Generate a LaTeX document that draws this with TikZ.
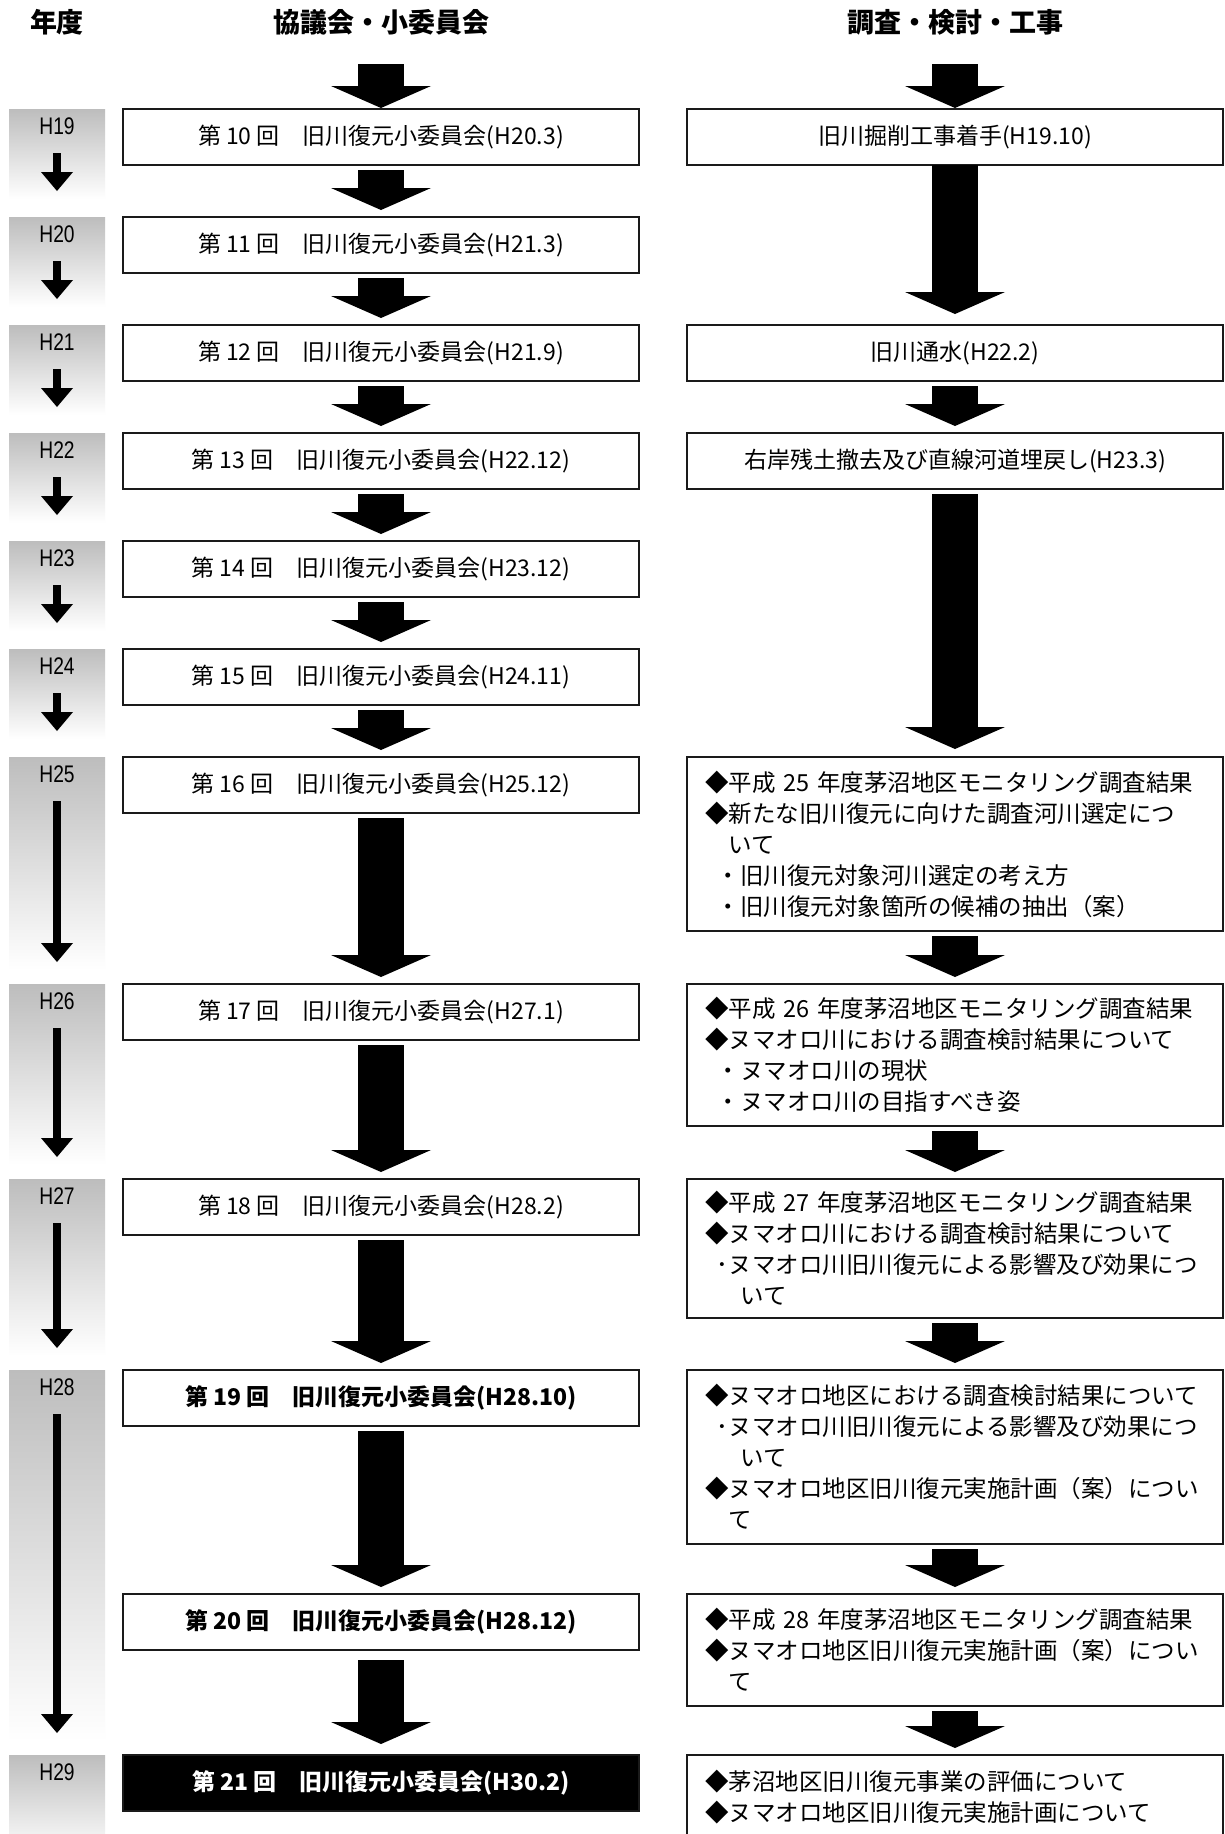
\documentclass[tikz,border=0pt]{standalone}
\usepackage{fontspec}
\setmainfont{Liberation Sans}
\newfontfamily\jpfont{Noto Sans CJK JP}
\newfontfamily\yearfont{Liberation Sans}[FakeStretch=0.8]
\usetikzlibrary{arrows.meta, positioning, calc}
\definecolor{yeargray}{HTML}{BDBDBD}
\definecolor{boxborder}{HTML}{1A1A1A}

\begin{document}
\begin{tikzpicture}[
      x=1pt, y=-1pt,
      meeting/.style={draw=boxborder, line width=1.5pt, minimum width=516pt,
        minimum height=56pt, inner sep=0pt, outer sep=0pt,
        font=\jpfont\fontsize{23}{28}\selectfont},
      keymeeting/.style={meeting, font=\jpfont\bfseries\fontsize{23}{28}\selectfont},
      work/.style={draw=boxborder, line width=1.5pt, minimum width=536pt,
        minimum height=56pt, inner sep=0pt, outer sep=0pt,
        font=\jpfont\fontsize{23}{28}\selectfont},
      survey/.style={draw=boxborder, line width=1.5pt, text width=500pt,
        inner xsep=18pt, inner ysep=6pt, outer sep=0pt, align=left,
        font=\jpfont\fontsize{23.5}{31}\selectfont},
      yearbox/.style={top color=yeargray, bottom color=white,
        minimum width=96pt, inner sep=0pt, outer sep=0pt},
      yearlabel/.style={inner sep=0pt, font=\yearfont\fontsize{24}{24}\selectfont},
      heading/.style={font=\jpfont\bfseries\fontsize{27}{30}\selectfont},
      flow/.style={line width=46pt, shorten <=5pt, shorten >=7pt,
        -{Triangle[width=100pt, length=22pt, line width=0pt]}},
      yearflow/.style={line width=8pt, shorten <=18pt, shorten >=8pt,
        -{Triangle[width=32pt, length=19pt, line width=0pt]}}
    ]
      \path[use as bounding box, fill=white] (0,0) rectangle (1225,1834);

      % headings
      \node[heading] (hyear) at (57,22) {年度};
      \node[heading] (hmeet) at (381,22) {協議会・小委員会};
      \node[heading] (hwork) at (955,22) {調査・検討・工事};
      \coordinate (top1) at (381,64);
      \coordinate (top2) at (955,64);

      % committee meetings
      \node[meeting, anchor=north] (m10) at (381,109) {第 10 回　旧川復元小委員会(H20.3)};
      \node[meeting, below=52pt of m10] (m11) {第 11 回　旧川復元小委員会(H21.3)};
      \node[meeting, below=52pt of m11] (m12) {第 12 回　旧川復元小委員会(H21.9)};
      \node[meeting, below=52pt of m12] (m13) {第 13 回　旧川復元小委員会(H22.12)};
      \node[meeting, below=52pt of m13] (m14) {第 14 回　旧川復元小委員会(H23.12)};
      \node[meeting, below=52pt of m14] (m15) {第 15 回　旧川復元小委員会(H24.11)};
      \node[meeting, below=52pt of m15] (m16) {第 16 回　旧川復元小委員会(H25.12)};
      \node[meeting, below=171pt of m16] (m17) {第 17 回　旧川復元小委員会(H27.1)};
      \node[meeting, below=139pt of m17] (m18) {第 18 回　旧川復元小委員会(H28.2)};
      \node[keymeeting, below=135pt of m18] (m19) {第 19 回　旧川復元小委員会(H28.10)};
      \node[keymeeting, below=168pt of m19] (m20) {第 20 回　旧川復元小委員会(H28.12)};
      \node[keymeeting, fill=black, text=white, below=105pt of m20] (m21)
        {第 21 回　旧川復元小委員会(H30.2)};

      % fiscal years
      \node[yearbox, minimum height=90pt, left=18pt of m10.north west, anchor=north east] (y19) {};
      \node[yearbox, minimum height=90pt, left=18pt of m11.north west, anchor=north east] (y20) {};
      \node[yearbox, minimum height=90pt, left=18pt of m12.north west, anchor=north east] (y21) {};
      \node[yearbox, minimum height=90pt, left=18pt of m13.north west, anchor=north east] (y22) {};
      \node[yearbox, minimum height=90pt, left=18pt of m14.north west, anchor=north east] (y23) {};
      \node[yearbox, minimum height=90pt, left=18pt of m15.north west, anchor=north east] (y24) {};
      \node[yearbox, minimum height=213pt, left=18pt of m16.north west, anchor=north east] (y25) {};
      \node[yearbox, minimum height=181pt, left=18pt of m17.north west, anchor=north east] (y26) {};
      \node[yearbox, minimum height=177pt, left=18pt of m18.north west, anchor=north east] (y27) {};
      \node[yearbox, minimum height=371pt, left=18pt of m19.north west, anchor=north east] (y28) {};
      \node[yearbox, minimum height=100pt, left=18pt of m21.north west, anchor=north east] (y29) {};
      \node[yearlabel, below=9pt of y19.north] (l19) {H19};
      \node[yearlabel, below=9pt of y20.north] (l20) {H20};
      \node[yearlabel, below=9pt of y21.north] (l21) {H21};
      \node[yearlabel, below=9pt of y22.north] (l22) {H22};
      \node[yearlabel, below=9pt of y23.north] (l23) {H23};
      \node[yearlabel, below=9pt of y24.north] (l24) {H24};
      \node[yearlabel, below=9pt of y25.north] (l25) {H25};
      \node[yearlabel, below=9pt of y26.north] (l26) {H26};
      \node[yearlabel, below=9pt of y27.north] (l27) {H27};
      \node[yearlabel, below=9pt of y28.north] (l28) {H28};
      \node[yearlabel, below=9pt of y29.north] (l29) {H29};

      % surveys and works
      \node[work, right=48pt of m10] (r10) {旧川掘削工事着手(H19.10)};
      \node[work, right=48pt of m12] (r12) {旧川通水(H22.2)};
      \node[work, right=48pt of m13] (r13) {右岸残土撤去及び直線河道埋戻し(H23.3)};
      \node[survey, minimum height=174pt, right=48pt of m16.north east, anchor=north west] (r16)
        {◆平成 25 年度茅沼地区モニタリング調査結果\\
         ◆新たな旧川復元に向けた調査河川選定につ\\
         \hspace*{1em}いて\\
         \hspace*{0.5em}・旧川復元対象河川選定の考え方\\
         \hspace*{0.5em}・旧川復元対象箇所の候補の抽出（案）};
      \node[survey, minimum height=142pt, right=48pt of m17.north east, anchor=north west] (r17)
        {◆平成 26 年度茅沼地区モニタリング調査結果\\
         ◆ヌマオロ川における調査検討結果について\\
         \hspace*{0.5em}・ヌマオロ川の現状\\
         \hspace*{0.5em}・ヌマオロ川の目指すべき姿};
      \node[survey, minimum height=139pt, right=48pt of m18.north east, anchor=north west] (r18)
        {◆平成 27 年度茅沼地区モニタリング調査結果\\
         ◆ヌマオロ川における調査検討結果について\\
         \hspace*{0.5em}･ヌマオロ川旧川復元による影響及び効果につ\\
         \hspace*{1.5em}いて};
      \node[survey, minimum height=174pt, right=48pt of m19.north east, anchor=north west] (r19)
        {◆ヌマオロ地区における調査検討結果について\\
         \hspace*{0.5em}･ヌマオロ川旧川復元による影響及び効果につ\\
         \hspace*{1.5em}いて\\
         ◆ヌマオロ地区旧川復元実施計画（案）につい\\
         \hspace*{1em}て};
      \node[survey, minimum height=112pt, right=48pt of m20.north east, anchor=north west] (r20)
        {◆平成 28 年度茅沼地区モニタリング調査結果\\
         ◆ヌマオロ地区旧川復元実施計画（案）につい\\
         \hspace*{1em}て};
      \node[survey, minimum height=84pt, right=48pt of m21.north east, anchor=north west] (r21)
        {◆茅沼地区旧川復元事業の評価について\\
         ◆ヌマオロ地区旧川復元実施計画について};

      % flow of meetings
      \draw[flow, shorten <=0pt, shorten >=1pt] (top1) -- (m10);
      \draw[flow] (m10) -- (m11);
      \draw[flow] (m11) -- (m12);
      \draw[flow] (m12) -- (m13);
      \draw[flow] (m13) -- (m14);
      \draw[flow] (m14) -- (m15);
      \draw[flow] (m15) -- (m16);
      \draw[flow] (m16) -- (m17);
      \draw[flow] (m17) -- (m18);
      \draw[flow] (m18) -- (m19);
      \draw[flow] (m19) -- (m20);
      \draw[flow, shorten <=10pt, shorten >=11pt] (m20) -- (m21);

      % flow of surveys
      \draw[flow, shorten <=0pt, shorten >=1pt] (top2) -- (r10);
      \draw[flow, shorten <=0pt, shorten >=11pt] (r10) -- (r12);
      \draw[flow] (r12) -- (r13);
      \draw[flow, shorten >=8pt] (r13) -- (r16);
      \draw[flow] (r16) -- (r17);
      \draw[flow] (r17) -- (r18);
      \draw[flow] (r18) -- (r19);
      \draw[flow] (r19) -- (r20);
      \draw[flow] (r20) -- (r21);

      % year arrows
      \draw[yearflow] (l19) -- (y19.south);
      \draw[yearflow] (l20) -- (y20.south);
      \draw[yearflow] (l21) -- (y21.south);
      \draw[yearflow] (l22) -- (y22.south);
      \draw[yearflow] (l23) -- (y23.south);
      \draw[yearflow] (l24) -- (y24.south);
      \draw[yearflow] (l25) -- (y25.south);
      \draw[yearflow] (l26) -- (y26.south);
      \draw[yearflow] (l27) -- (y27.south);
      \draw[yearflow] (l28) -- (y28.south);
    \end{tikzpicture}
\end{document}
